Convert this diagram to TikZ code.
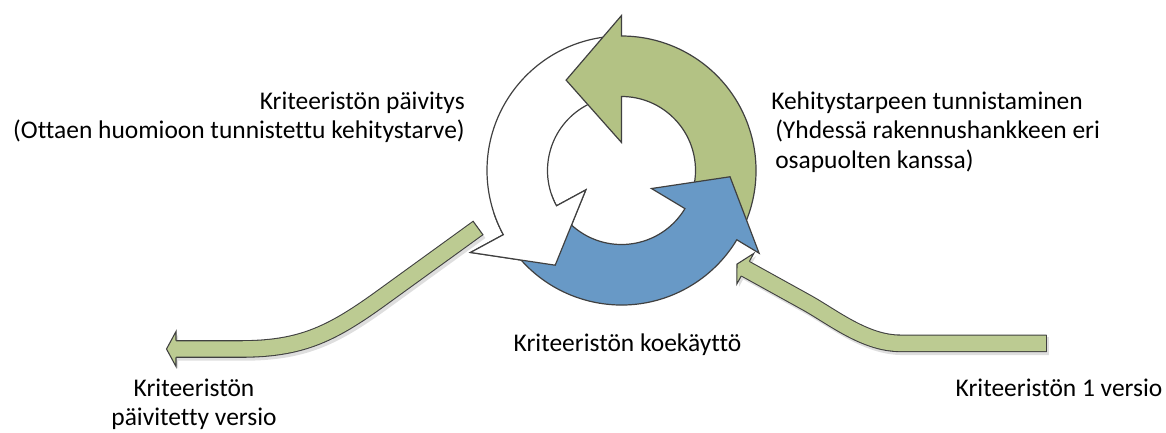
\documentclass[tikz,border=0pt]{standalone}
\usepackage{fontspec}
\setmainfont{Carlito}[Ligatures=NoCommon]
\usetikzlibrary{calc}

\definecolor{ringgreen}{RGB}{179,194,132}
\definecolor{ringblue}{RGB}{104,153,198}
\definecolor{flowgreen}{RGB}{188,203,146}
\definecolor{edgegray}{RGB}{64,64,64}
\definecolor{shadowgray}{RGB}{222,222,222}

% one segment of the cycle: tail angle, base angle, tip angle,
% inner wing radius, outer wing radius, tip radius, style
\newcommand\cyclearrow[7]{%
  \path[#7] (#1:134.5) arc[start angle=#1, end angle=#2, radius=134.5]
    -- (#2:#5) -- (#3:#6) -- (#2:#4) -- (#2:74)
    arc[start angle=#2, end angle=#1, radius=74] -- cycle;}

\tikzset{
  ringedge/.style={draw=edgegray, line width=0.9pt, line join=miter},
  greenseg/.style={ringedge, fill=ringgreen},
  blueseg/.style={ringedge, fill=ringblue},
  whiteseg/.style={ringedge, fill=white},
  flowshaft/.style={draw=edgegray, line width=0.8pt, double=flowgreen, double distance=11.6pt},
  flowshadow/.style={draw=shadowgray, line width=13.4pt},
  lbl/.style={font=\fontsize{19.1pt}{22.1pt}\selectfont, inner sep=0pt, text=black},
  flowhead/.pic={
    \fill[flowgreen] (0,-17.5) -- (9.5,0) -- (0,17.5) -- cycle;
    \draw[edgegray, line width=0.8pt, line join=miter] (0,-8.3) -- (0,-17.5) -- (9.5,0) -- (0,17.5) -- (0,8.3);
  },
  headshadow/.pic={
    \fill[shadowgray] (0,-17.5) -- (9.5,0) -- (0,17.5) -- cycle;
  }
}

\begin{document}
\begin{tikzpicture}[x=0.75pt, y=-0.75pt]
\useasboundingbox (0,0) rectangle (1166,432);

% ---- flow arrow out of the cycle (left) ----
\coordinate (ltail) at (478,228);
\coordinate (lb1) at (380,299);
\coordinate (lc1) at (330,335);
\coordinate (lc2) at (300,349);
\coordinate (lb2) at (240,349);
\coordinate (lend) at (175,349);
\coordinate (lhead) at (176,349);
\def\leftpath{(ltail) -- (lb1) .. controls (lc1) and (lc2) .. (lb2) -- (lend)}

% ---- flow arrow into the cycle (right) ----
\coordinate (rtail) at (1046.7,343.3);
\coordinate (rb1) at (900,343.3);
\coordinate (rc1) at (865,343.3);
\coordinate (rc2) at (832.8,317.2);
\coordinate (rb2) at (806.6,302.6);
\coordinate (rend) at (744.4,268.2);
\coordinate (rhead) at (745.3,268.7);
\def\rightpath{(rtail) -- (rb1) .. controls (rc1) and (rc2) .. (rb2) -- (rend)}

% soft drop shadows
\begin{scope}[transform canvas={shift={(2.2,2.8)}}]
  \draw[flowshadow] \leftpath;
  \draw[flowshadow] \rightpath;
  \pic[rotate=180] at (lhead) {headshadow};
  \pic[rotate=151] at (rhead) {headshadow};
\end{scope}

% shafts, tail caps and heads
\draw[flowshaft] \leftpath;
\draw[edgegray, line width=0.8pt] ($(ltail)!6.55pt!90:(lb1)$) -- ($(ltail)!6.55pt!-90:(lb1)$);
\pic[rotate=180] at (lhead) {flowhead};

\draw[flowshaft] \rightpath;
\draw[edgegray, line width=0.8pt] ($(rtail)!6.55pt!90:(rb1)$) -- ($(rtail)!6.55pt!-90:(rb1)$);
\pic[rotate=151] at (rhead) {flowhead};

% ---- the cycle ----
\coordinate (ringc) at (621.5,170.5);
\begin{scope}[shift={(621.5,170.5)}, x=0.75pt, y=0.75pt]
  \cyclearrow{92}{208.5}{235}{40.6}{171.8}{115.6}{whiteseg}
  \cyclearrow{-29}{90}{121.5}{28}{155}{106}{greenseg}
  \cyclearrow{210}{329}{356.7}{35}{160.5}{108.7}{blueseg}
  % the white head lies over the tail of the blue segment
  \begin{scope}
    \clip (0,0) -- (198:220) arc[start angle=198, end angle=252, radius=220] -- cycle;
    \cyclearrow{92}{208.5}{235}{40.6}{171.8}{115.6}{whiteseg}
  \end{scope}
\end{scope}

% ---- labels (multi-line nodes sit on the baseline of their last line) ----
\node[lbl, anchor=base east, align=right] (update) at (465,138.5)
  {Kriteeristön päivitys\\(Ottaen huomioon tunnistettu kehitystarve)};
\node[lbl, anchor=base west, align=left] (need) at (771,168)
  {Kehitystarpeen tunnistaminen\\\hspace*{3pt}(Yhdessä rakennushankkeen eri\\\hspace*{3pt}osapuolten kanssa)};
\node[lbl, anchor=base] (trial) at (627.5,351.7) {Kriteeristön koekäyttö};
\node[lbl, anchor=base, align=center] (updated) at (194,425.5)
  {Kriteeristön\\päivitetty versio};
\node[lbl, anchor=base] (first) at (1059,396.5) {Kriteeristön 1 versio};
\end{tikzpicture}
\end{document}
